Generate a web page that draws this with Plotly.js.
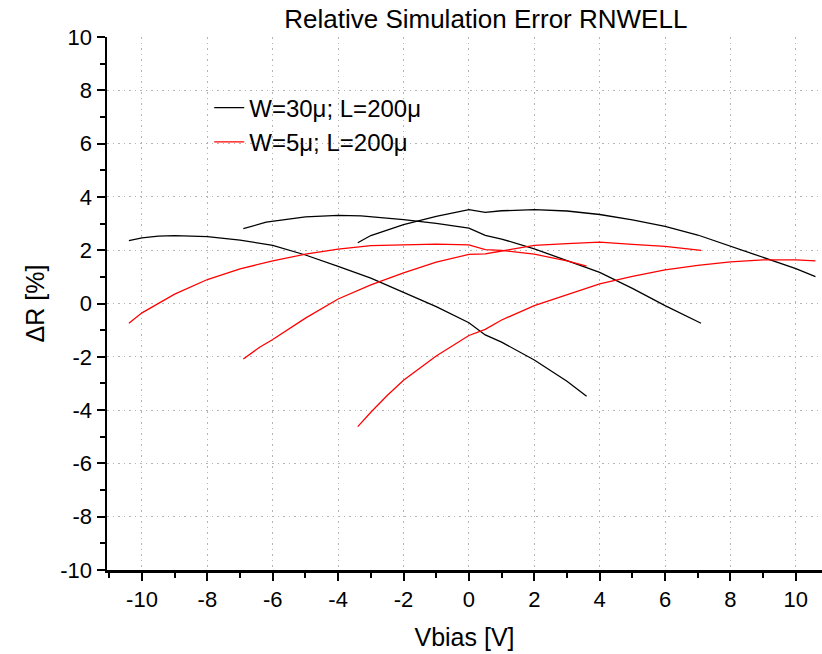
<!DOCTYPE html>
<html>
<head>
<meta charset="utf-8">
<script src="https://cdn.plot.ly/plotly-3.0.1.min.js"></script>
<style>html,body{margin:0;padding:0;background:#fff;}#chart{width:822px;height:654px;}</style>
</head>
<body>
<div id="chart"></div>
<script>
// W=30µ; L=200µ (black) — three curves
const w30_a_x = [-10.4, -10, -9.5, -9, -8, -7, -6, -5, -4, -3, -2, -1, 0, 0.5, 1, 2, 3, 3.6];
const w30_a_y = [2.36, 2.46, 2.53, 2.55, 2.51, 2.38, 2.18, 1.82, 1.39, 0.95, 0.42, -0.12, -0.72, -1.18, -1.45, -2.12, -2.92, -3.48];
const w30_b_x = [-6.9, -6.2, -5, -4, -3.3, -3, -2, -1, 0, 0.5, 1, 2, 3, 4, 5, 6, 7.1];
const w30_b_y = [2.81, 3.05, 3.25, 3.31, 3.29, 3.26, 3.15, 3.01, 2.83, 2.56, 2.42, 2.05, 1.61, 1.17, 0.57, -0.08, -0.74];
const w30_c_x = [-3.4, -3, -2, -1, 0, 0.5, 1, 2, 3, 4, 5, 6, 7, 8, 9, 10, 10.6];
const w30_c_y = [2.28, 2.55, 2.96, 3.27, 3.52, 3.42, 3.48, 3.52, 3.47, 3.34, 3.14, 2.89, 2.57, 2.16, 1.74, 1.31, 1.01];
// W=5µ; L=200µ (red) — three curves
const w5_a_x = [-10.4, -10, -9, -8, -7, -6, -5, -4, -3, -2, -1, 0, 0.5, 1, 2, 3, 3.6];
const w5_a_y = [-0.74, -0.35, 0.35, 0.90, 1.30, 1.60, 1.85, 2.04, 2.17, 2.20, 2.23, 2.20, 2.02, 1.99, 1.85, 1.60, 1.40];
const w5_b_x = [-6.9, -6.4, -6, -5, -4, -3, -2, -1, 0, 0.5, 1, 2, 3, 4, 5, 6, 7.1];
const w5_b_y = [-2.08, -1.64, -1.35, -0.55, 0.17, 0.70, 1.15, 1.55, 1.84, 1.86, 1.97, 2.18, 2.25, 2.30, 2.22, 2.14, 1.99];
const w5_c_x = [-3.4, -3, -2.5, -2, -1, 0, 0.5, 1, 2, 3, 4, 5, 6, 7, 8, 9, 10, 10.6];
const w5_c_y = [-4.62, -4.08, -3.45, -2.88, -1.97, -1.2, -0.97, -0.62, -0.08, 0.34, 0.74, 1.02, 1.26, 1.43, 1.56, 1.64, 1.64, 1.60];

const seriesNames = ['W=30μ; L=200μ', 'W=5μ; L=200μ'];
const seriesColors = ['#000000', '#ff0000'];
const xTickVals = [-10, -8, -6, -4, -2, 0, 2, 4, 6, 8, 10];
const yTickVals = [-10, -8, -6, -4, -2, 0, 2, 4, 6, 8, 10];

const FONT = 'Liberation Sans, Arial, sans-serif';
const groups = [
  [[w30_a_x, w30_a_y], [w30_b_x, w30_b_y], [w30_c_x, w30_c_y]],
  [[w5_a_x, w5_a_y], [w5_b_x, w5_b_y], [w5_c_x, w5_c_y]]
];
const traces = [];
groups.forEach((curves, gi) => {
  curves.forEach((c, ci) => {
    traces.push({
      x: c[0], y: c[1], type: 'scatter', mode: 'lines',
      name: seriesNames[gi], legendgroup: 'g' + gi, showlegend: ci === 0,
      line: {color: seriesColors[gi], width: 1.3}
    });
  });
});

const axisCommon = {
  showline: true, linecolor: '#000', linewidth: 2.5, mirror: false,
  ticks: 'outside', ticklen: 8, tickwidth: 2, tickcolor: '#000',
  showgrid: true, gridcolor: '#b4b4b4', griddash: '1.5px,4px', gridwidth: 1,
  zeroline: false, tickfont: {family: FONT, size: 22, color: '#000'},
  minor: {ticks: 'outside', ticklen: 5, tickwidth: 2, tickcolor: '#000', dtick: 1, showgrid: false}
};

const layout = {
  width: 822, height: 654,
  paper_bgcolor: '#fff', plot_bgcolor: '#fff',
  margin: {l: 107, r: 0, t: 37, b: 84},
  font: {family: FONT, color: '#000'},
  title: {text: 'Relative Simulation Error RNWELL', font: {family: FONT, size: 26, color: '#000'},
          x: 0.591, xanchor: 'center', y: 0.971, yanchor: 'middle'},
  xaxis: Object.assign({}, axisCommon, {
    range: [-11.07, 10.8], tickvals: xTickVals, ticktext: xTickVals.map(String),
    title: {text: 'Vbias [V]', font: {family: FONT, size: 25, color: '#000'}, standoff: 18}
  }),
  yaxis: Object.assign({}, axisCommon, {
    range: [-10, 10], tickvals: yTickVals, ticktext: yTickVals.map(String),
    title: {text: 'ΔR [%]', font: {family: FONT, size: 25, color: '#000'}, standoff: 9}
  }),
  showlegend: true,
  legend: {x: 0.143, y: 0.909, xanchor: 'left', yanchor: 'top', bgcolor: 'rgba(0,0,0,0)',
           font: {family: FONT, size: 24, color: '#000'}, tracegroupgap: 0}
};

Plotly.newPlot('chart', traces, layout, {displayModeBar: false, staticPlot: true});
</script>
</body>
</html>
